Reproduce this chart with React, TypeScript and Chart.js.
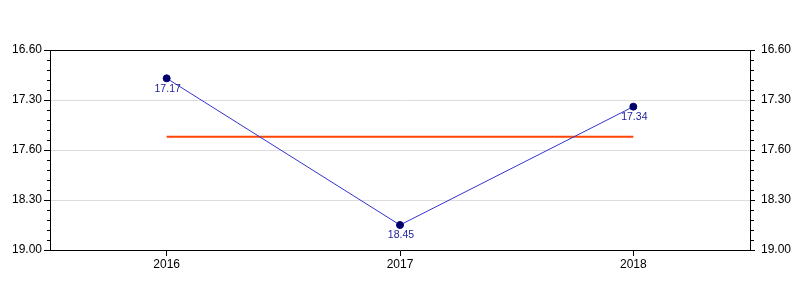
import React, { useEffect, useRef } from "react";
import { Chart, registerables } from "chart.js";

Chart.register(...registerables);

// ---- data ----
const years = ["2016", "2017", "2018"];
// times as shown on the chart (minutes.seconds)
const timeLabels = ["17.17", "18.45", "17.34"];
// y-axis tick labels (as printed in the original), top to bottom
const yTickLabels = ["16.60", "17.30", "17.60", "18.30", "19.00"];

const toSeconds = (t: string) => {
  const [m, s] = t.split(".");
  return parseInt(m, 10) * 60 + parseInt(s, 10);
};
const seconds = timeLabels.map(toSeconds);
const average = seconds.reduce((a, b) => a + b, 0) / seconds.length;
const averageSeries = years.map(() => average);

// axis range in seconds (17:00 .. 19:00, step 30 s, minor 6 s)
const Y_MIN = 1020;
const Y_MAX = 1140;
const Y_STEP = 30;
const Y_MINOR = 6;

const FONT = "'Liberation Sans', Arial, sans-serif";

const extrasPlugin = {
  id: "extras",
  afterDraw(chart: any) {
    const ctx = chart.ctx;
    const area = chart.chartArea;
    const ys = chart.scales.y;
    ctx.save();
    ctx.strokeStyle = "#000";
    ctx.lineWidth = 1;
    // top border
    ctx.beginPath();
    ctx.moveTo(area.left, Math.round(area.top) + 0.5);
    ctx.lineTo(area.right, Math.round(area.top) + 0.5);
    ctx.stroke();
    // minor ticks
    for (let v = Y_MIN; v <= Y_MAX; v += Y_MINOR) {
      if ((v - Y_MIN) % Y_STEP === 0) continue;
      const py = Math.round(ys.getPixelForValue(v)) + 0.5;
      ctx.beginPath();
      ctx.moveTo(area.left - 3, py);
      ctx.lineTo(area.left, py);
      ctx.moveTo(area.right, py);
      ctx.lineTo(area.right + 4, py);
      ctx.stroke();
    }
    // data labels
    const meta = chart.getDatasetMeta(0);
    ctx.fillStyle = "#1c1c9c";
    ctx.font = `10.5px ${FONT}`;
    ctx.textAlign = "center";
    ctx.textBaseline = "middle";
    meta.data.forEach((pt: any, i: number) => {
      ctx.fillText(timeLabels[i], pt.x + 1, pt.y + 10.5);
    });
    ctx.restore();
  },
};

export default function App() {
  const ref = useRef<HTMLCanvasElement>(null);

  useEffect(() => {
    if (!ref.current) return;
    const yTickCb = (v: any) => yTickLabels[Math.round((Number(v) - Y_MIN) / Y_STEP)];
    const yGridColor = (c: any) => {
      const v = c.tick ? c.tick.value : null;
      return v === Y_MIN || v === Y_MAX ? "rgba(0,0,0,0)" : "#dcdcdc";
    };
    const chart = new Chart(ref.current, {
      type: "line",
      data: {
        labels: years,
        datasets: [
          {
            data: seconds,
            borderColor: "#3333cc",
            borderWidth: 1,
            pointRadius: 3.5,
            pointBackgroundColor: "#000066",
            pointBorderColor: "#000080",
            pointBorderWidth: 1,
            tension: 0,
          },
          {
            data: averageSeries,
            borderColor: "#ff4500",
            borderWidth: 2,
            pointRadius: 0,
            tension: 0,
          },
        ],
      },
      options: {
        animation: false,
        responsive: false,
        maintainAspectRatio: false,
        devicePixelRatio: 1,
        layout: { padding: { top: 50, left: 0, right: 0, bottom: 0 } },
        plugins: {
          legend: { display: false },
          tooltip: { enabled: false },
        },
        scales: {
          x: {
            type: "category",
            offset: true,
            grid: {
              drawOnChartArea: false,
              drawTicks: true,
              tickLength: 6,
              tickColor: "#000",
              offset: false,
            },
            border: { display: true, color: "#000", width: 1 },
            ticks: { color: "#000", font: { size: 12, family: FONT }, padding: 1 },
            afterFit: (s: any) => {
              s.height = 50;
            },
          },
          y: {
            type: "linear",
            position: "left",
            reverse: true,
            min: Y_MIN,
            max: Y_MAX,
            ticks: {
              stepSize: Y_STEP,
              color: "#000",
              font: { size: 12, family: FONT },
              padding: 2,
              callback: yTickCb,
            },
            grid: {
              color: yGridColor,
              tickColor: "#000",
              tickLength: 6,
            },
            border: { display: true, color: "#000", width: 1 },
            afterFit: (s: any) => {
              s.width = 50;
            },
          },
          y2: {
            type: "linear",
            position: "right",
            reverse: true,
            min: Y_MIN,
            max: Y_MAX,
            ticks: {
              stepSize: Y_STEP,
              color: "#000",
              font: { size: 12, family: FONT },
              padding: 6,
              callback: yTickCb,
            },
            grid: {
              drawOnChartArea: false,
              tickColor: "#000",
              tickLength: 5,
            },
            border: { display: true, color: "#000", width: 1 },
            afterFit: (s: any) => {
              s.width = 50;
            },
          },
        },
      },
      plugins: [extrasPlugin],
    });
    return () => chart.destroy();
  }, []);

  return (
    <div
      style={{
        position: "fixed",
        left: 0,
        top: 0,
        width: 800,
        height: 300,
        background: "#fff",
      }}
    >
      <canvas ref={ref} width={800} height={300} />
    </div>
  );
}
